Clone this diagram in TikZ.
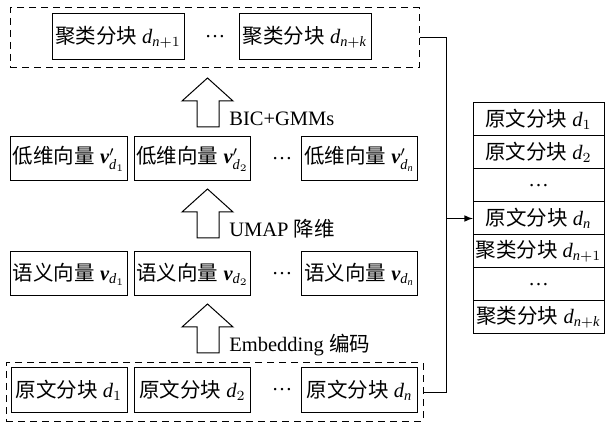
\documentclass[tikz,border=0pt]{standalone}
\usepackage{amsmath}
\usepackage{fontspec}
\setmainfont{Liberation Serif}
\newfontfamily\zhfont{Noto Sans CJK SC}
\newcommand{\zh}[1]{{\zhfont #1}}
\newcommand{\vb}{\text{\bfseries\itshape v}}
\usetikzlibrary{arrows}
\usetikzlibrary{positioning}
\tikzstyle{blk} = [draw, line width=0.5pt, minimum width=58pt, minimum height=22pt, inner sep=1pt]
\tikzstyle{cblk} = [blk, minimum width=66pt, minimum height=23pt]
\tikzstyle{group} = [draw, line width=0.5pt, dash pattern=on 3.5pt off 2.5pt]
\tikzstyle{cell} = [draw, line width=0.5pt, minimum width=65.5pt, minimum height=16.5pt, inner sep=0pt, outer sep=0pt]

\begin{document}
\begin{tikzpicture}[x=0.5pt,y=-0.5pt,font=\fontsize{10.25}{12}\selectfont]
\useasboundingbox (0,0) rectangle (609,426);
% dashed groups
\node[group, minimum width=204.5pt, minimum height=30pt] (top) at (214.5,38) {};
\node[group, minimum width=208.5pt, minimum height=29pt] (bot) at (214.5,392) {};
% clustered chunks
\node[cblk] (c1) at (118,37) {\zh{聚类分块} $\mathit{d}_{\mathit{n}+1}$};
\node (cdots) at (215,37) {\dots};
\node[cblk] (c2) at (305,37) {\zh{聚类分块} $\mathit{d}_{\mathit{n}+\mathit{k}}$};
% low-dim vectors
\node[blk] (l1) at (69,159) {\zh{低维向量} $\vb'_{\mathit{d}_1}$};
\node[blk] (l2) at (192.5,159) {\zh{低维向量} $\vb'_{\mathit{d}_2}$};
\node (ldots) at (282,159) {\dots};
\node[blk] (l3) at (359.5,159) {\zh{低维向量} $\vb'_{\mathit{d}_\mathit{n}}$};
% embeddings
\node[blk] (s1) at (69,274) {\zh{语义向量} $\vb_{\mathit{d}_1}$};
\node[blk] (s2) at (192.5,274) {\zh{语义向量} $\vb_{\mathit{d}_2}$};
\node (sdots) at (282,274) {\dots};
\node[blk] (s3) at (359.5,274) {\zh{语义向量} $\vb_{\mathit{d}_\mathit{n}}$};
% raw chunks
\node[blk] (r1) at (69,390) {\zh{原文分块} $\mathit{d}_1$};
\node[blk] (r2) at (192.5,390) {\zh{原文分块} $\mathit{d}_2$};
\node (rdots) at (282,390) {\dots};
\node[blk] (r3) at (359.5,390) {\zh{原文分块} $\mathit{d}_\mathit{n}$};
% block arrows between the rows
\foreach \b/\lbl in {127/BIC+GMMs, 238/UMAP \zh{降维}, 353/Embedding \zh{编码}} {
  \draw[line width=0.5pt] (197,\b) -- (197,\b-26) -- (182,\b-26) -- (207.5,\b-49)
    -- (233,\b-26) -- (219,\b-26) -- (219,\b) -- cycle;
  \node[anchor=base west, inner sep=0pt] (op\b) at (229,\b-1) {\lbl};
}
% merged list
\node[cell] (t1) at (538.5,119.5) {\zh{原文分块} $\mathit{d}_1$};
\node[cell, below=0pt of t1] (t2) {\zh{原文分块} $\mathit{d}_2$};
\node[cell, below=0pt of t2] (t3) {\dots};
\node[cell, below=0pt of t3] (t4) {\zh{原文分块} $\mathit{d}_\mathit{n}$};
\node[cell, below=0pt of t4] (t5) {\zh{聚类分块} $\mathit{d}_{\mathit{n}+1}$};
\node[cell, below=0pt of t5] (t6) {\dots};
\node[cell, below=0pt of t6] (t7) {\zh{聚类分块} $\mathit{d}_{\mathit{n}+\mathit{k}}$};
% connector
\coordinate (bus) at (446,0 |- t4.west);
\draw[line width=0.5pt] (top.east) -| (bus);
\draw[line width=0.5pt] (bot.east) -| (bus);
\draw[line width=0.5pt, -latex] (bus) -- (t4.west);
\end{tikzpicture}
\end{document}
